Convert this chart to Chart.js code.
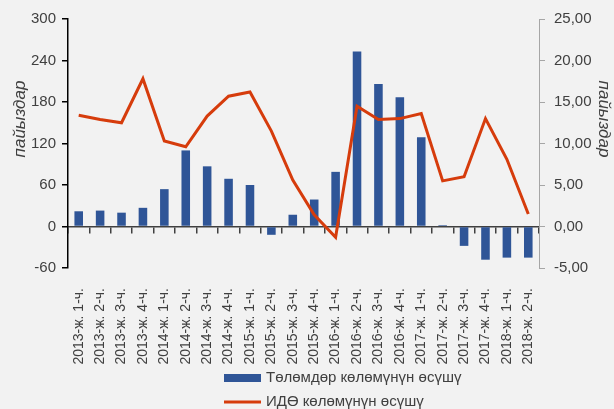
<!DOCTYPE html>
<html>
<head>
<meta charset="utf-8">
<script src="https://cdn.jsdelivr.net/npm/chart.js@4/dist/chart.umd.min.js"></script>
<style>
  html, body { margin: 0; padding: 0; background: #f2f2f2; }
  #mycanvas { display: block; }
</style>
</head>
<body>
<canvas id="mycanvas" width="614" height="409"></canvas>
<script>
var periods = ['2013-ж. 1-ч.', '2013-ж. 2-ч.', '2013-ж. 3-ч.', '2013-ж. 4-ч.',
               '2014-ж. 1-ч.', '2014-ж. 2-ч.', '2014-ж. 3-ч.', '2014-ж. 4-ч.',
               '2015-ж. 1-ч.', '2015-ж. 2-ч.', '2015-ж. 3-ч.', '2015-ж. 4-ч.',
               '2016-ж. 1-ч.', '2016-ж. 2-ч.', '2016-ж. 3-ч.', '2016-ж. 4-ч.',
               '2017-ж. 1-ч.', '2017-ж. 2-ч.', '2017-ж. 3-ч.', '2017-ж. 4-ч.',
               '2018-ж. 1-ч.', '2018-ж. 2-ч.'];
// left axis, %
var paymentGrowth = [22, 23, 20, 27, 54, 110, 87, 69, 60, -12, 17, 39,
                     79, 253, 206, 187, 129, 2, -28, -48, -45, -45];
// right axis, %
var gdpGrowth = [13.4, 12.9, 12.5, 17.8, 10.3, 9.6, 13.3, 15.7, 16.2, 11.5, 5.6, 1.4,
                 -1.3, 14.5, 12.9, 13.0, 13.6, 5.5, 6.0, 13.0, 8.1, 1.5];
var paymentLabel = 'Төлөмдөр көлөмүнүн өсүшү';
var gdpLabel = 'ИДӨ көлөмүнүн өсүшү';
var axisTitle = 'пайыздар';

var barColor = '#2f5597';
var lineColor = '#d63c0c';
var textColor = '#404040';
var fontFamily = '"Liberation Sans", "DejaVu Sans", sans-serif';

// axis titles and legend drawn by hand (Excel-like placement)
var extras = {
  id: 'extras',
  afterDraw: function(chart) {
    var ctx = chart.ctx;
    var area = chart.chartArea;
    var midY = area.top + 100;
    ctx.save();
    ctx.fillStyle = textColor;
    ctx.font = 'italic 17px ' + fontFamily;
    ctx.textAlign = 'center';
    ctx.textBaseline = 'middle';
    ctx.save();
    ctx.translate(20, midY);
    ctx.rotate(-Math.PI / 2);
    ctx.fillText(axisTitle, 0, 0);
    ctx.restore();
    ctx.save();
    ctx.translate(604, midY);
    ctx.rotate(Math.PI / 2);
    ctx.fillText(axisTitle, 0, 0);
    ctx.restore();

    // legend
    var lx = 224;
    ctx.font = '15px ' + fontFamily;
    ctx.textAlign = 'left';
    ctx.fillStyle = barColor;
    ctx.fillRect(lx, 374, 37, 8);
    ctx.fillStyle = textColor;
    ctx.fillText(paymentLabel, lx + 42, 378);
    ctx.strokeStyle = lineColor;
    ctx.lineWidth = 3;
    ctx.beginPath();
    ctx.moveTo(lx, 402);
    ctx.lineTo(lx + 37, 402);
    ctx.stroke();
    ctx.fillText(gdpLabel, lx + 42, 402);
    ctx.restore();
  }
};

var ctx = document.getElementById('mycanvas');
var chart = new Chart(ctx, {
  type: 'bar',
  data: {
    labels: periods,
    datasets: [
      {
        type: 'line',
        label: gdpLabel,
        data: gdpGrowth,
        yAxisID: 'y1',
        borderColor: lineColor,
        backgroundColor: lineColor,
        borderWidth: 3,
        pointRadius: 0,
        tension: 0,
        order: 0
      },
      {
        label: paymentLabel,
        data: paymentGrowth,
        yAxisID: 'y',
        backgroundColor: barColor,
        categoryPercentage: 1,
        barPercentage: 0.4,
        order: 1
      }
    ]
  },
  options: {
    responsive: false,
    animation: false,
    layout: { padding: { top: 19, left: 0, right: 0, bottom: 41 } },
    plugins: {
      legend: { display: false },
      tooltip: { enabled: false }
    },
    scales: {
      x: {
        position: 'bottom',
        offset: true,
        grid: { display: false },
        border: { display: false },
        ticks: {
          color: textColor,
          font: { family: fontFamily, size: 14 },
          minRotation: 90,
          maxRotation: 90,
          autoSkip: false,
          padding: 12
        },
        afterFit: function(scale) { scale.height = 100; }
      },
      x2: {
        type: 'category',
        position: { y: 0 },
        offset: true,
        grid: {
          offset: true,
          drawOnChartArea: false,
          drawTicks: true,
          tickLength: 6,
          color: textColor,
          lineWidth: 1.5
        },
        border: { display: true, color: textColor, width: 1.5 },
        ticks: { display: false }
      },
      y: {
        position: 'left',
        min: -60,
        max: 300,
        ticks: {
          stepSize: 60,
          color: textColor,
          font: { family: fontFamily, size: 15 },
          padding: 6
        },
        grid: {
          drawOnChartArea: false,
          drawTicks: true,
          tickLength: 6,
          color: '#000000',
          lineWidth: 1.5
        },
        border: { color: '#000000', width: 1.5 },
        afterFit: function(scale) { scale.width = 68; }
      },
      y1: {
        position: 'right',
        min: -5,
        max: 25,
        ticks: {
          stepSize: 5,
          color: textColor,
          font: { family: fontFamily, size: 15 },
          padding: 9,
          callback: function(v) { return v.toFixed(2).replace('.', ','); }
        },
        grid: {
          drawOnChartArea: false,
          drawTicks: true,
          tickLength: 6,
          color: '#a6a6a6'
        },
        border: { color: '#a6a6a6', width: 1 },
        afterFit: function(scale) { scale.width = 75; }
      }
    }
  },
  plugins: [extras]
});
</script>
</body>
</html>
